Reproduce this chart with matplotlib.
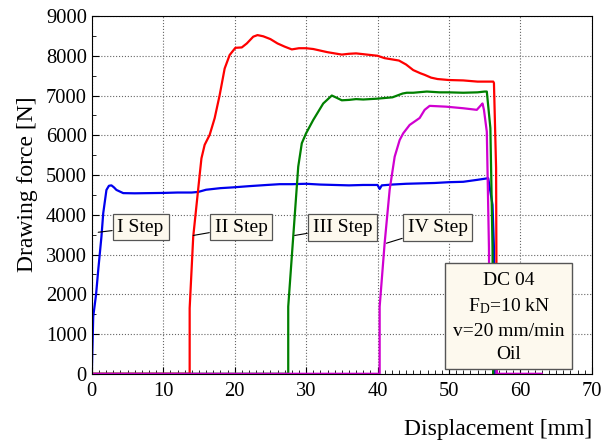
import matplotlib
matplotlib.use('Agg')
import matplotlib.pyplot as plt
from matplotlib.patches import Rectangle
from matplotlib.ticker import MultipleLocator

plt.rcParams['font.family'] = ['Liberation Serif', 'DejaVu Serif']
plt.rcParams['mathtext.fontset'] = 'custom'
plt.rcParams['mathtext.rm'] = 'Liberation Serif'
plt.rcParams['mathtext.it'] = 'Liberation Serif:italic'

# --- data (displacement mm, force N) ---
step1_x = [0, 0.2, 0.6, 0.9, 1.35, 1.6, 2.05, 2.4, 2.75, 3.1, 3.45, 4.4, 6, 8, 10, 12, 14,
           14.9, 16, 18, 19.8, 22, 24.5, 26.3, 28, 30, 32, 34, 36, 38, 40, 40.3, 40.6,
           42, 44, 46, 48, 50, 52, 54, 55.5, 56.1, 56.3, 56.4]
step1_y = [0, 1440, 2000, 2610, 3450, 4040, 4625, 4730, 4740, 4690, 4625, 4545, 4540, 4545, 4550, 4560, 4560,
           4575, 4630, 4670, 4690, 4720, 4750, 4770, 4770, 4780, 4760, 4750, 4740, 4750, 4750, 4650, 4740,
           4760, 4780, 4790, 4800, 4820, 4830, 4880, 4920, 4250, 3170, 0]

step2_x = [0, 13.7, 13.7, 14.2, 15.1, 15.35, 15.8, 16.5, 17.2, 17.9, 18.6, 19.3, 20.1, 21, 21.7,
           22.6, 23.2, 24, 25, 26, 27, 28, 29, 30, 31, 32, 33, 34, 35, 36, 37, 38, 39, 40,
           41, 42, 43, 44, 45, 46, 46.6, 47.5, 48.4, 50, 52, 54, 55.5, 56.2, 56.3, 56.6, 56.7]
step2_y = [0, 0, 1650, 3450, 5000, 5420, 5760, 6010, 6430, 7010, 7680, 8020, 8200, 8210, 8310,
           8480, 8520, 8490, 8420, 8310, 8230, 8160, 8190, 8190, 8170, 8130, 8090, 8060, 8030, 8050, 8060, 8040, 8020, 8000,
           7940, 7910, 7880, 7780, 7640, 7560, 7520, 7450, 7415, 7390, 7380, 7350, 7350, 7350, 7315, 5180, 0]

step3_x = [0, 27.5, 27.5, 28.2, 28.9, 29.4, 30, 31, 32.4, 33.6, 34.2, 35, 36, 37, 38, 39.9,
           42.1, 43.5, 44.1, 45, 46.9, 48.7, 50, 52, 54, 55, 55.3, 55.8, 56.1, 56.2]
step3_y = [0, 0, 1690, 3450, 5210, 5800, 6050, 6385, 6800, 7000, 6950, 6880, 6890, 6910, 6900, 6920,
           6955, 7050, 7070, 7070, 7100, 7080, 7080, 7070, 7080, 7100, 7100, 6180, 3170, 0]

step4_x = [0, 40.3, 40.3, 41, 41.7, 42.4, 43.1, 43.6, 44.5, 45.9, 46.6, 47.3, 49.6, 52, 53.9, 54.5, 54.7,
           54.9, 55.3, 55.6, 55.7, 56.7, 56.7, 63]
step4_y = [0, 0, 1690, 3290, 4630, 5460, 5880, 6050, 6260, 6435, 6640, 6740, 6720, 6680, 6640, 6760, 6800,
           6640, 6090, 3170, 200, 200, 0, 0]

step_labels = ['I Step', 'II Step', 'III Step', 'IV Step']
info_lines = ['DC 04', 'F$_{\\mathrm{D}}$=10 kN', 'v=20 mm/min', 'Oil']

fig = plt.figure(figsize=(6.12, 4.45), dpi=100)
ax = fig.add_axes([0.150, 0.160, 0.817, 0.804])

lw = 1.6
ax.plot(step1_x, step1_y, color='#0000ee', lw=lw)
ax.plot(step2_x, step2_y, color='#ff0000', lw=lw)
ax.plot(step3_x, step3_y, color='#008000', lw=lw)
ax.plot(step4_x, step4_y, color='#d000d0', lw=lw)

ax.set_xlim(0, 70)
ax.set_ylim(0, 9000)
ax.xaxis.set_major_locator(MultipleLocator(10))
ax.xaxis.set_minor_locator(MultipleLocator(1))
ax.yaxis.set_major_locator(MultipleLocator(1000))
ax.yaxis.set_minor_locator(MultipleLocator(500))
ax.tick_params(which='both', direction='in', labelsize=14.8)
ax.tick_params(which='major', length=5, width=0.8)
ax.tick_params(which='minor', length=3, width=0.6)
ax.tick_params(axis='x', pad=6)
ax.grid(True, which='major', linestyle=':', color='#666666', lw=0.8)
ax.set_axisbelow(True)

ax.set_xlabel('Displacement [mm]', fontsize=17, loc='right', labelpad=13)
ax.set_ylabel('Drawing force [N]', fontsize=17)
ax.yaxis.set_label_coords(-0.108, 0.53)

# step labels with leader lines
box = dict(boxstyle='square,pad=0.25', fc='#fdf9ee', ec='#555555', lw=0.9)
label_pts = [(0.9, 3560), (14.2, 3480), (28.4, 3480), (41.25, 3285)]
label_pos = [(6.83, 3690), (20.9, 3690), (35.07, 3680), (48.4, 3680)]
for txt, pt, pos in zip(step_labels, label_pts, label_pos):
    ax.annotate(txt, xy=pt, xytext=pos, ha='center', va='center', fontsize=14,
                bbox=box, zorder=5,
                arrowprops=dict(arrowstyle='-', color='black', lw=0.8, shrinkA=0, shrinkB=0))

# info box
ax.add_patch(Rectangle((49.4, 130), 17.8, 2660, fc='#fdf9ee', ec='#555555', lw=1.0, zorder=6))
ax.text(58.4, 1410, '\n'.join(info_lines), ha='center', va='center', fontsize=14,
        linespacing=1.5, zorder=7)

plt.savefig('out.png', dpi=100)
plt.close()
